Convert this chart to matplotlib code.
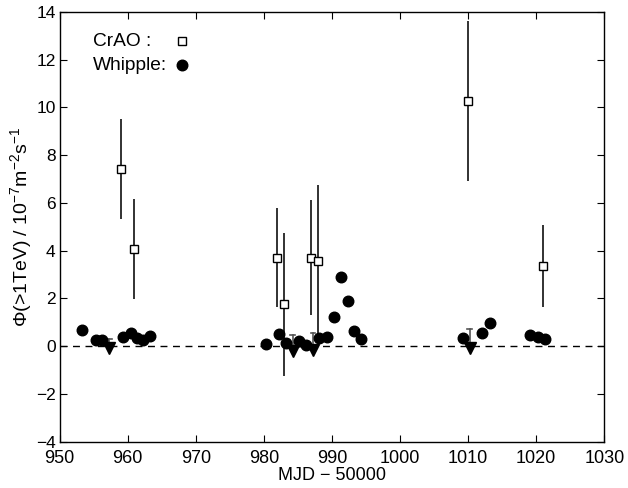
import matplotlib
matplotlib.use("Agg")
import matplotlib.pyplot as plt

plt.rcParams['font.family'] = ['Liberation Sans', 'DejaVu Sans']
plt.rcParams['mathtext.default'] = 'regular'

# CrAO measurements (open squares with error bars)
crao_mjd = [958.96, 960.9, 981.97, 982.95, 986.9, 988.0, 1010.03, 1021.0]
crao_flux = [7.41, 4.06, 3.71, 1.75, 3.71, 3.57, 10.26, 3.36]
crao_err = [2.1, 2.1, 2.08, 2.98, 2.4, 3.18, 3.35, 1.73]

# Whipple measurements (filled circles)
wh_mjd = [953.2, 955.3, 956.2, 959.3, 960.4, 961.3, 962.2, 963.3,
          980.3, 982.2, 983.2, 985.2, 986.2, 988.1, 989.2, 990.3, 991.3,
          992.3, 993.3, 994.3,
          1009.3, 1012.1, 1013.2, 1019.1, 1020.2, 1021.3]
wh_flux = [0.68, 0.26, 0.26, 0.37, 0.54, 0.33, 0.25, 0.42,
           0.09, 0.50, 0.12, 0.23, 0.05, 0.36, 0.40, 1.21, 2.91,
           1.89, 0.64, 0.30,
           0.36, 0.57, 0.98, 0.47, 0.40, 0.29]

# Whipple upper limits (down triangles)
ul_mjd = [957.3, 984.2, 987.2, 1010.2]
ul_mark = [-0.09, -0.2, -0.15, -0.06]
ul_top = [0.31, 0.47, 0.54, 0.72]

fig = plt.figure(figsize=(6.28, 4.88), dpi=100)
ax = fig.add_axes([0.0951, 0.0949, 0.8672, 0.8805])

ax.axhline(0, color='black', linestyle=(0, (5, 4)), linewidth=1.0, zorder=1)

# upper limits
for x, m, t in zip(ul_mjd, ul_mark, ul_top):
    ax.plot([x, x], [m, t], color='#555555', linewidth=1.2, zorder=2)
    ax.plot([x - 0.35, x + 0.35], [t, t], color='#555555', linewidth=1.2, zorder=2)
ax.plot(ul_mjd, ul_mark, linestyle='none', marker='v', markersize=8,
        color='black', zorder=3)

ax.errorbar(crao_mjd, crao_flux, yerr=crao_err, fmt='s', markersize=6.2,
            markerfacecolor='white', markeredgecolor='black', markeredgewidth=1.0,
            ecolor='#222222', elinewidth=1.3, capsize=0, zorder=4)

ax.plot(wh_mjd, wh_flux, linestyle='none', marker='o', markersize=7.6,
        color='black', zorder=5)

ax.set_xlim(950, 1030)
ax.set_ylim(-4, 14)
ax.set_xticks(range(950, 1031, 10))
ax.set_yticks(range(-4, 15, 2))
ax.set_yticklabels([str(v).replace('-', '\u2212') for v in range(-4, 15, 2)])
ax.tick_params(direction='in', top=True, right=True, length=5, width=0.8,
               labelsize=13)
ax.tick_params(axis='x', pad=6)
ax.tick_params(axis='y', pad=3, labelsize=12.5)
for s in ax.spines.values():
    s.set_linewidth(1.0)

ax.set_xlabel('MJD \u2212 50000', fontsize=13, labelpad=0)
ax.set_ylabel('\u03a6(>1TeV) / 10$^{-7}$m$^{-2}$s$^{-1}$', fontsize=14, labelpad=1)

# legend
ax.text(954.9, 12.76, 'CrAO :', fontsize=13.8, va='center', ha='left')
ax.text(954.9, 11.74, 'Whipple:', fontsize=13.8, va='center', ha='left')
ax.plot([968.0], [12.8], marker='s', markersize=6.2, markerfacecolor='white',
        markeredgecolor='black', markeredgewidth=1.0, linestyle='none')
ax.plot([968.0], [11.8], marker='o', markersize=7.6, color='black', linestyle='none')

fig.savefig('out.png', dpi=100)
